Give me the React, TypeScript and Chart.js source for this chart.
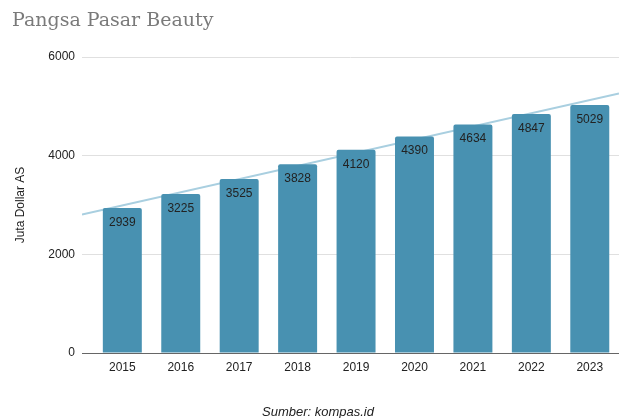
import React, { useEffect, useRef } from "react";
import { Chart, registerables } from "chart.js";

Chart.register(...registerables);

const years = ["2015", "2016", "2017", "2018", "2019", "2020", "2021", "2022", "2023"];
const values = [2939, 3225, 3525, 3828, 4120, 4390, 4634, 4847, 5029];
const yTicks = [0, 2000, 4000, 6000];
const chartTitle = "Pangsa Pasar Beauty";
const yAxisTitle = "Juta Dollar AS";
const sourceText = "Sumber: kompas.id";

function regression(vals: number[]) {
  const n = vals.length;
  const mx = (n - 1) / 2;
  const my = vals.reduce((a, b) => a + b, 0) / n;
  let sxy = 0;
  let sxx = 0;
  vals.forEach((v, i) => {
    sxy += (i - mx) * (v - my);
    sxx += (i - mx) * (i - mx);
  });
  const slope = sxy / sxx;
  return { slope, intercept: my - slope * mx };
}

const SANS = '"Liberation Sans", Arial, sans-serif';

export default function App() {
  const ref = useRef<HTMLCanvasElement>(null);

  useEffect(() => {
    if (!ref.current) return;
    const X_MIN = -0.69;
    const X_MAX = 8.5;
    const { slope, intercept } = regression(values);

    const labelPlugin = {
      id: "barLabels",
      afterDatasetsDraw(chart: any) {
        const ctx = chart.ctx;
        const meta = chart.getDatasetMeta(0);
        ctx.save();
        ctx.font = `12px ${SANS}`;
        ctx.fillStyle = "#222222";
        ctx.textAlign = "center";
        ctx.textBaseline = "middle";
        meta.data.forEach((el: any, i: number) => {
          ctx.fillText(String(values[i]), el.x, el.y + 14.5);
        });
        ctx.restore();
      },
    };

    const chart = new Chart(ref.current, {
      type: "bar",
      data: {
        datasets: [
          {
            type: "bar",
            data: values.map((v, i) => ({ x: i, y: v })),
            backgroundColor: "#4891b1",
            barPercentage: 0.667,
            categoryPercentage: 1,
            borderRadius: { topLeft: 2, topRight: 2, bottomLeft: 0, bottomRight: 0 },
            borderSkipped: "start",
            order: 1,
          } as any,
          {
            type: "line",
            data: [X_MIN, X_MAX].map((x) => ({ x, y: intercept + slope * x })),
            borderColor: "#a9cfe0",
            borderWidth: 2,
            pointRadius: 0,
            order: 2,
          } as any,
        ],
      },
      options: {
        animation: false,
        responsive: false,
        devicePixelRatio: 1,
        layout: { padding: { top: 57, right: 0, bottom: 0, left: 0 } },
        plugins: {
          legend: { display: false },
          tooltip: { enabled: false },
          title: { display: false },
        },
        scales: {
          x: {
            type: "linear",
            bounds: "data",
            offset: false,
            min: X_MIN,
            max: X_MAX,
            grid: { display: false, drawTicks: false, offset: false },
            border: { display: true, color: "#666666", width: 1 },
            afterBuildTicks: (scale: any) => {
              scale.ticks = years.map((_, i) => ({ value: i }));
            },
            afterFit: (scale: any) => {
              scale.height = 65;
            },
            ticks: {
              autoSkip: false,
              maxRotation: 0,
              padding: 7,
              color: "#222222",
              font: { family: SANS, size: 12 },
              callback: (v: any) => years[v] ?? "",
            },
          } as any,
          y: {
            min: 0,
            max: 6000,
            bounds: "data",
            grid: { color: "#e0e0e0", drawTicks: false, lineWidth: 1 },
            border: { display: false },
            afterBuildTicks: (scale: any) => {
              scale.ticks = yTicks.map((v) => ({ value: v }));
            },
            afterFit: (scale: any) => {
              scale.width = 82;
            },
            ticks: {
              padding: 7,
              color: "#222222",
              font: { family: SANS, size: 12 },
              callback: (v: any) => String(v),
            },
            title: {
              display: true,
              text: yAxisTitle,
              color: "#222222",
              font: { family: SANS, size: 12 },
              padding: { top: 13, bottom: 0 },
            },
          } as any,
        },
      },
      plugins: [labelPlugin],
    });
    return () => chart.destroy();
  }, []);

  return (
    <div style={{ position: "absolute", left: 0, top: 0, width: 619, height: 418, background: "#ffffff", overflow: "hidden" }}>
      <canvas ref={ref} width={619} height={418} style={{ position: "absolute", left: 0, top: 0, width: 619, height: 418 }} />
      <div
        style={{
          position: "absolute",
          left: 12,
          top: 9,
          fontFamily: '"DejaVu Serif", Georgia, serif',
          fontSize: 19,
          lineHeight: "20px",
          color: "#7a7a7a",
          whiteSpace: "nowrap",
        }}
      >
        {chartTitle}
      </div>
      <div
        style={{
          position: "absolute",
          left: 218,
          width: 200,
          top: 405,
          textAlign: "center",
          fontFamily: SANS,
          fontStyle: "italic",
          fontSize: 13,
          lineHeight: "13px",
          color: "#222222",
          whiteSpace: "nowrap",
        }}
      >
        {sourceText}
      </div>
    </div>
  );
}
